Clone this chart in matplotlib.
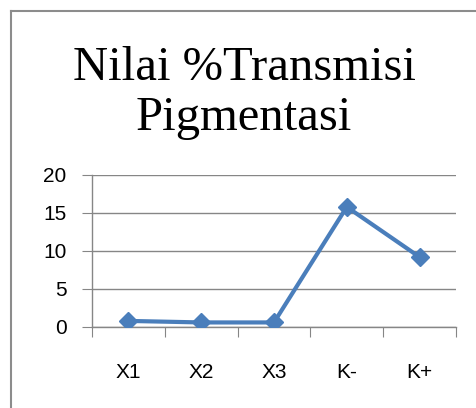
import matplotlib
matplotlib.use("Agg")
import matplotlib.pyplot as plt
from matplotlib.lines import Line2D
import numpy as np

# data
kategori = ["X1", "X2", "X3", "K-", "K+"]
transmisi = [0.8, 0.6, 0.6, 15.8, 9.2]
y_ticks = [0, 5, 10, 15, 20]

W, H = 477, 408
fig = plt.figure(figsize=(W / 100, H / 100), dpi=100)
fig.patch.set_facecolor("white")

# outer chart border (runs off the right and bottom edges)
grey = "#8c8c8c"
fig.add_artist(Line2D([11 / W, 11 / W], [0, 1 - 11 / H], color=grey, lw=1.5))
fig.add_artist(Line2D([11 / W, 1], [1 - 11 / H, 1 - 11 / H], color=grey, lw=1.5))

ax = fig.add_axes([92 / W, 1 - 327 / H, (456 - 92) / W, (327 - 175) / H])

x = np.arange(len(kategori))
ax.plot(x, transmisi, color="#4A7EBB", lw=3, marker="D", markersize=9,
        markerfacecolor="#4A7EBB", markeredgecolor="#4A7EBB", zorder=3)

ax.set_xlim(-0.5, len(kategori) - 0.5)
ax.set_ylim(0, 20)
ax.set_yticks(y_ticks)
ax.yaxis.grid(True, color="#868686", lw=1)
ax.set_axisbelow(True)

for s in ["top", "right"]:
    ax.spines[s].set_visible(False)
for s in ["left", "bottom"]:
    ax.spines[s].set_color("#868686")
    ax.spines[s].set_linewidth(1)

# category boundaries as ticks, labels in the middle
ax.set_xticks(np.arange(-0.5, len(kategori)))
ax.set_xticklabels([])
ax.set_xticks(x, minor=True)
ax.set_xticklabels(kategori, minor=True, fontsize=15, fontfamily="Liberation Sans")
ax.tick_params(axis="x", which="major", direction="out", length=7, color="#868686")
ax.tick_params(axis="x", which="minor", length=0, pad=26)
ax.tick_params(axis="y", direction="out", length=7.2, color="#868686", pad=11,
               labelsize=15)
for lab in ax.get_yticklabels():
    lab.set_fontfamily("Liberation Sans")

fig.text(244 / W, 1 - 93 / H, "Nilai %Transmisi\nPigmentasi", ha="center", va="center",
         fontsize=35, fontfamily="Liberation Serif", linespacing=1.2)

fig.savefig("out.png", dpi=100)
